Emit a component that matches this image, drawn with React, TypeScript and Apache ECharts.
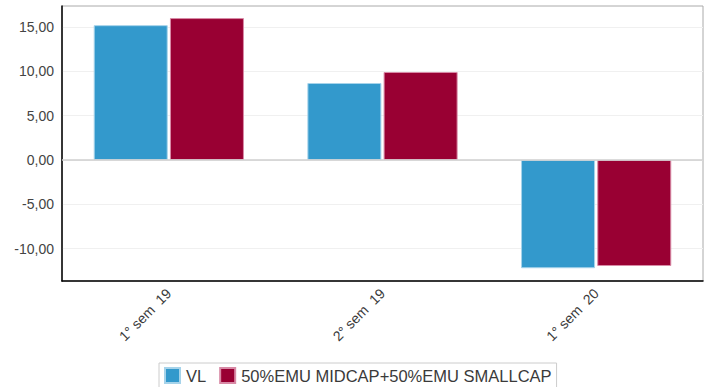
import React, { useEffect, useRef } from "react";
import * as echarts from "echarts";

const categories = ["1° sem  19", "2° sem  19", "1° sem  20"];
const seriesNames = ["VL", "50%EMU MIDCAP+50%EMU SMALLCAP"];
const vlValues = [15.2, 8.68, -12.2];
const benchValues = [16.0, 9.92, -11.95];
const yTicks = [-10, -5, 0, 5, 10, 15];
const yMin = -13.64;
const yMax = 17.36;

export default function App() {
  const ref = useRef<HTMLDivElement>(null);
  useEffect(() => {
    if (!ref.current) return;
    const chart = echarts.init(ref.current, null, { renderer: "svg" });
    const font = "Liberation Sans, Arial, sans-serif";
    chart.setOption({
      animation: false,
      textStyle: { fontFamily: font },
      grid: {
        left: 62,
        right: 6,
        top: 6,
        bottom: 106,
        show: true,
        borderColor: "#aaaaaa",
        borderWidth: 1,
        backgroundColor: "transparent",
      },
      legend: {
        left: 159,
        top: 363,
        data: seriesNames,
        itemWidth: 15,
        itemHeight: 15,
        itemGap: 13,
        borderColor: "#cccccc",
        borderWidth: 1,
        padding: [4, 5, 4, 5],
        icon: "rect",
        textStyle: { fontFamily: font, fontSize: 16.5, color: "#3a3a3a", padding: [0, 0, 0, 1] },
      },
      xAxis: {
        type: "category",
        data: categories,
        axisLine: { onZero: false, lineStyle: { color: "#000000", width: 1.5 } },
        axisTick: { show: false },
        axisLabel: {
          rotate: 45,
          fontSize: 14,
          color: "#3a3a3a",
          fontFamily: font,
          margin: 10,
          interval: 0,
        },
        splitLine: { show: false },
      },
      yAxis: {
        type: "value",
        min: yMin,
        max: yMax,
        axisLine: { show: true, lineStyle: { color: "#000000", width: 1.5 } },
        axisTick: { show: false, customValues: yTicks },
        axisLabel: {
          customValues: yTicks,
          fontSize: 14,
          color: "#444444",
          fontFamily: font,
          margin: 8,
          formatter: (v: number) => v.toFixed(2).replace(".", ","),
        },
        splitLine: { show: true, lineStyle: { color: "#f0f0f0", width: 1 } },
      },
      series: [
        {
          name: seriesNames[0],
          type: "bar",
          data: vlValues,
          barWidth: 74,
          barGap: "3%",
          itemStyle: { color: "#3399cc", borderColor: "#a6d3ea", borderWidth: 1 },
          markLine: {
            silent: true,
            symbol: "none",
            label: { show: false },
            lineStyle: { color: "#cfcfcf", width: 1.5, type: "solid" },
            data: [{ yAxis: 0 }],
          },
        },
        {
          name: seriesNames[1],
          type: "bar",
          data: benchValues,
          barWidth: 74,
          itemStyle: { color: "#990033", borderColor: "#d88aa6", borderWidth: 1 },
        },
      ],
    });
    return () => chart.dispose();
  }, []);
  return (
    <div
      ref={ref}
      style={{ position: "fixed", left: 0, top: 0, width: 709, height: 387, background: "#ffffff" }}
    />
  );
}
